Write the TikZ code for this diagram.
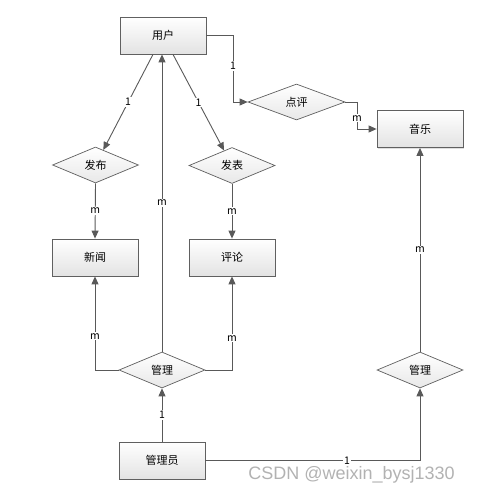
\documentclass[tikz,border=0pt]{standalone}
\usepackage{fontspec}
\setmainfont{Noto Sans CJK SC}
\newfontfamily\wmfont{Liberation Sans}
\usetikzlibrary{shapes.geometric,arrows.meta,shadows}
\begin{document}
\begin{tikzpicture}[x=1pt,y=-1pt,
  ent/.style={draw=gray!75!black, line width=0.8pt, rectangle, minimum width=86pt, minimum height=37pt,
     top color=white, bottom color=gray!22, font=\fontsize{11}{13}\selectfont,
     drop shadow={shadow xshift=1.2pt, shadow yshift=-1.2pt, opacity=0.25}},
  rel/.style={draw=gray!75!black, line width=0.7pt, diamond, minimum width=86pt, minimum height=36pt, inner sep=0pt,
     top color=white, bottom color=gray!18, font=\fontsize{11}{13}\selectfont},
  conn/.style={draw=gray!70!black, line width=0.9pt},
  arr/.style={conn, -{Triangle[length=8pt,width=7pt]}},
  lab/.style={fill=white, inner sep=1pt, font=\fontsize{10.5}{12}\selectfont}
]
\useasboundingbox (0,0) rectangle (476,497);
% entities
\node[ent] (yh) at (163,35.5) {用户};
\node[ent] (xw) at (95,257.5) {新闻};
\node[ent] (pl) at (232,257.5) {评论};
\node[ent] (yy) at (420,129) {音乐};
\node[ent] (gly) at (162,460.5) {管理员};
% relations
\node[rel, minimum width=97pt] (dp) at (296.5,102) {点评};
\node[rel] (fb) at (95.5,165) {发布};
\node[rel] (fbb) at (232,165.5) {发表};
\node[rel] (gl) at (162,370) {管理};
\node[rel] (gr) at (420,370) {管理};
% bend points
\coordinate (b1) at (233,35.5);
\coordinate (b2) at (357,102);
% connectors
\draw[arr] (yh.east) -- (b1) |- node[lab, pos=0.23] {1} (dp.west);
\draw[arr] (b2) |- node[lab, pos=0.3] {m} (yy.west);
\draw[conn] (dp.east) -- (b2);
\draw[arr] ([xshift=-10pt]yh.south) -- node[lab] {1} (fb);
\draw[arr] ([xshift=10pt]yh.south) -- node[lab] {1} (fbb);
\draw[arr] (fb.south) -- node[lab] {m} (xw.north);
\draw[arr] (fbb.south) -- node[lab] {m} (pl.north);
\draw[arr] (gl.north) -- node[lab, pos=0.5] {m} (gl.north |- yh.south);
\draw[arr] (gl.west) -| node[lab, pos=0.68] {m} (xw.south);
\draw[arr] (gl.east) -| node[lab, pos=0.67] {m} (pl.south);
\draw[arr] (gly.north) -- node[lab] {1} (gl.south);
\draw[arr] (gly.east) -| node[lab, pos=0.33] {1} (gr.south);
\draw[arr] (gr.north) -- node[lab] {m} (yy.south);
% watermark
\node[text=gray!60, font=\wmfont\fontsize{18}{20}\selectfont, anchor=center] (wm) at (351.5,475) {CSDN @weixin\_bysj1330};
\end{tikzpicture}
\end{document}
